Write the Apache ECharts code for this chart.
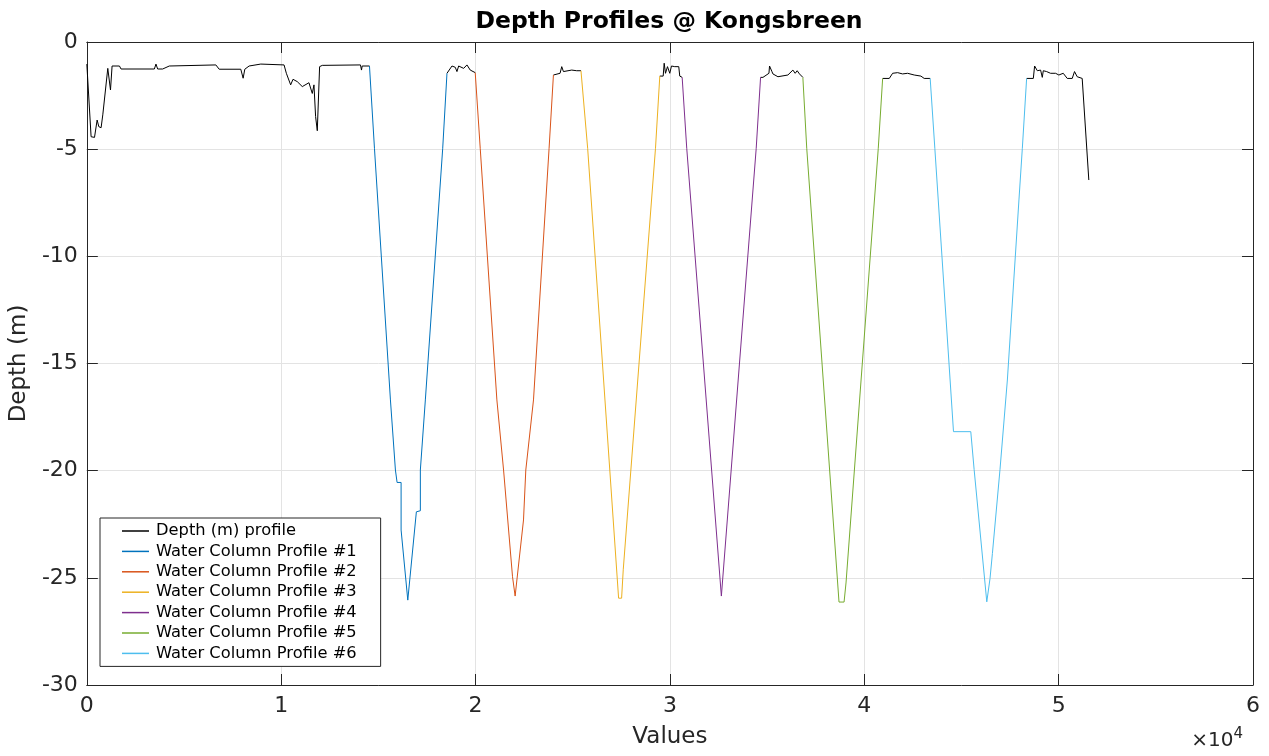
<!DOCTYPE html>
<html>
<head>
<meta charset="utf-8">
<title>Depth Profiles @ Kongsbreen</title>
<script src="https://cdn.jsdelivr.net/npm/echarts@6/dist/echarts.min.js"></script>
<style>
  html, body { margin: 0; padding: 0; background: #fff; }
  #chart { width: 1269px; height: 756px; }
</style>
</head>
<body>
<div id="chart"></div>
<script>
// depth (m) profile, pieces between the water column casts
const depthA = [[0, -1.03], [220, -4.42], [395, -4.45], [530, -3.64], [616, -3.95], [734, -4.0], [821, -3.4], [909, -3.4], [1078, -1.23], [1165, -1.15], [1217, -2.24], [1299, -1.12], [1678, -1.12], [1761, -1.26], [3475, -1.26], [3557, -1.03], [3644, -1.26], [3901, -1.26], [4243, -1.12], [6638, -1.07], [6810, -1.27], [7921, -1.27], [8042, -1.69], [8127, -1.27], [8350, -1.12], [8950, -1.03], [10147, -1.07], [10265, -1.46], [10487, -2.0], [10607, -1.74], [10828, -1.85], [11085, -2.08], [11428, -1.9], [11600, -2.4], [11686, -2.0], [11770, -3.48], [11857, -4.14], [11976, -1.15], [12114, -1.09], [14080, -1.07], [14131, -1.31], [14167, -1.12], [14542, -1.12]];
const depthB = [[18530, -1.46], [18617, -1.46], [18787, -1.12], [18956, -1.18], [19043, -1.38], [19130, -1.12], [19387, -1.23], [19557, -1.07], [19727, -1.31], [19983, -1.43]];
const depthC = [[24007, -1.54], [24092, -1.54], [24348, -1.46], [24434, -1.15], [24521, -1.38], [24947, -1.31], [25203, -1.34], [25290, -1.43], [25424, -1.34]];
const depthD = [[29480, -1.59], [29653, -1.59], [29705, -0.99], [29772, -1.46], [29875, -1.15], [29993, -1.46], [30080, -1.12], [30249, -1.15], [30455, -1.15], [30506, -1.59], [30630, -1.65]];
const depthE = [[34664, -1.65], [34787, -1.65], [35095, -1.46], [35126, -1.12], [35249, -1.38], [35300, -1.49], [35557, -1.62], [36070, -1.54], [36327, -1.31], [36445, -1.46], [36548, -1.34], [36666, -1.49], [36840, -1.65]];
const depthF = [[40945, -1.70], [41287, -1.70], [41458, -1.46], [41715, -1.43], [41971, -1.49], [42228, -1.46], [42570, -1.54], [42912, -1.59], [43083, -1.70], [43391, -1.70]];
const depthG = [[48353, -1.70], [48697, -1.70], [48764, -1.12], [48903, -1.34], [49072, -1.31], [49159, -1.65], [49210, -1.34], [49380, -1.38], [49585, -1.46], [49842, -1.46], [50011, -1.54], [50237, -1.46], [50442, -1.70], [50699, -1.70], [50817, -1.38], [50955, -1.62], [51212, -1.70], [51553, -6.44]];

// water column profiles
const profile1 = [[14542, -1.12], [14799, -4.96], [15620, -16.7], [15877, -19.97], [15963, -20.55], [16169, -20.55], [16169, -22.77], [16513, -26.04], [16955, -21.92], [17160, -21.87], [17160, -19.97], [17417, -16.7], [18310, -4.96], [18530, -1.46]];
const profile2 = [[19983, -1.43], [20240, -4.96], [21097, -16.7], [21441, -19.97], [21902, -24.95], [22036, -25.85], [22467, -22.3], [22585, -19.97], [22981, -16.7], [23783, -4.96], [24007, -1.54]];
const profile3 = [[25424, -1.34], [25768, -4.96], [27360, -25.95], [27514, -25.95], [27600, -24.6], [29258, -4.96], [29480, -1.59]];
const profile4 = [[30630, -1.65], [30866, -4.96], [32647, -25.85], [34440, -4.96], [34664, -1.65]];
const profile5 = [[36840, -1.65], [37040, -4.96], [38700, -26.13], [38960, -26.13], [39060, -25.24], [40720, -4.96], [40945, -1.70]];
const profile6 = [[43391, -1.70], [43630, -4.96], [44416, -15.77], [44590, -18.18], [45480, -18.18], [45651, -19.94], [46303, -26.12], [46470, -25.03], [46593, -23.86], [46983, -19.94], [47362, -15.77], [47958, -7.37], [48132, -4.96], [48353, -1.70]];

const seriesNames = ["Depth (m) profile", "Water Column Profile #1", "Water Column Profile #2",
  "Water Column Profile #3", "Water Column Profile #4", "Water Column Profile #5", "Water Column Profile #6"];
const seriesColors = ["#000000", "#0072BD", "#D95319", "#EDB120", "#7E2F8E", "#77AC30", "#4DBEEE"];

const xTicks = { min: 0, max: 60000, interval: 10000 };
const yTicks = { min: -30, max: 0, interval: 5 };

const gap = ["-", "-"];
const depthData = [].concat(depthA, [gap], depthB, [gap], depthC, [gap], depthD, [gap], depthE, [gap], depthF, [gap], depthG);
const profiles = [profile1, profile2, profile3, profile4, profile5, profile6];

const axisColor = "#262626";
const fontFamily = "DejaVu Sans";

const chart = echarts.init(document.getElementById("chart"), null, { renderer: "canvas" });

function lineSeries(name, color, data) {
  return {
    name: name,
    type: "line",
    data: data,
    symbol: "none",
    connectNulls: false,
    lineStyle: { color: color, width: 1 },
    itemStyle: { color: color },
    animation: false,
  };
}

const series = [lineSeries(seriesNames[0], seriesColors[0], depthData)];
profiles.forEach((p, i) => {
  series.push(lineSeries(seriesNames[i + 1], seriesColors[i + 1], p));
});

const xAxisBase = {
  type: "value",
  min: xTicks.min,
  max: xTicks.max,
  interval: xTicks.interval,
  axisLine: { show: true, onZero: false, lineStyle: { color: axisColor, width: 1 } },
  axisTick: { show: true, inside: true, length: 11, lineStyle: { color: axisColor } },
};
const yAxisBase = {
  type: "value",
  min: yTicks.min,
  max: yTicks.max,
  interval: yTicks.interval,
  axisLine: { show: true, onZero: false, lineStyle: { color: axisColor, width: 1 } },
  axisTick: { show: true, inside: true, length: 11, lineStyle: { color: axisColor } },
};

chart.setOption({
  backgroundColor: "#ffffff",
  animation: false,
  textStyle: { fontFamily: fontFamily },
  grid: { left: 83, right: 16, top: 42, bottom: 71, containLabel: false },
  legend: {
    orient: "vertical",
    left: 100,
    top: 518,
    data: seriesNames,
    icon: "rect",
    itemWidth: 27,
    itemHeight: 1.5,
    itemGap: 0.4,
    padding: [3, 24, 3, 22],
    backgroundColor: "#ffffff",
    borderColor: axisColor,
    borderWidth: 1,
    borderRadius: 0,
    selectedMode: false,
    textStyle: { fontFamily: fontFamily, fontSize: 16.3, color: "#000000", lineHeight: 20, padding: [0, 0, 0, 2] },
  },
  xAxis: [
    Object.assign({}, xAxisBase, {
      position: "bottom",
      name: "Values",
      nameLocation: "middle",
      nameGap: 41,
      nameTextStyle: { fontFamily: fontFamily, fontSize: 23, color: axisColor },
      axisLabel: {
        margin: 10,
        fontFamily: fontFamily,
        fontSize: 22,
        color: axisColor,
        formatter: (v) => String(v / 10000),
      },
      splitLine: { show: true, lineStyle: { color: "#e3e3e3", width: 1 } },
    }),
    Object.assign({}, xAxisBase, {
      position: "top",
      axisLabel: { show: false },
      splitLine: { show: false },
    }),
  ],
  yAxis: [
    Object.assign({}, yAxisBase, {
      position: "left",
      name: "Depth (m)",
      nameLocation: "middle",
      nameGap: 47,
      nameTextStyle: { fontFamily: fontFamily, fontSize: 23, color: axisColor },
      axisLabel: { margin: 9, fontFamily: fontFamily, fontSize: 22, color: axisColor },
      splitLine: { show: true, lineStyle: { color: "#e3e3e3", width: 1 } },
    }),
    Object.assign({}, yAxisBase, {
      position: "right",
      axisLabel: { show: false },
      splitLine: { show: false },
    }),
  ],
  graphic: [
    {
      type: "text",
      x: 669,
      y: 22,
      style: {
        text: "Depth Profiles @ Kongsbreen",
        fontFamily: fontFamily,
        fontWeight: "bold",
        fontSize: 23.5,
        fill: "#000000",
        textAlign: "center",
        textVerticalAlign: "middle",
      },
    },
    {
      type: "text",
      x: 1243,
      y: 754,
      style: {
        text: "×10{sup|4}",
        fontFamily: fontFamily,
        fontSize: 20,
        fill: axisColor,
        textAlign: "right",
        textVerticalAlign: "bottom",
        rich: {
          sup: { fontSize: 15, fontFamily: fontFamily, fill: axisColor, verticalAlign: "top", padding: [0, 0, 12, 0] },
        },
      },
    },
  ],
  series: series,
});
</script>
</body>
</html>
